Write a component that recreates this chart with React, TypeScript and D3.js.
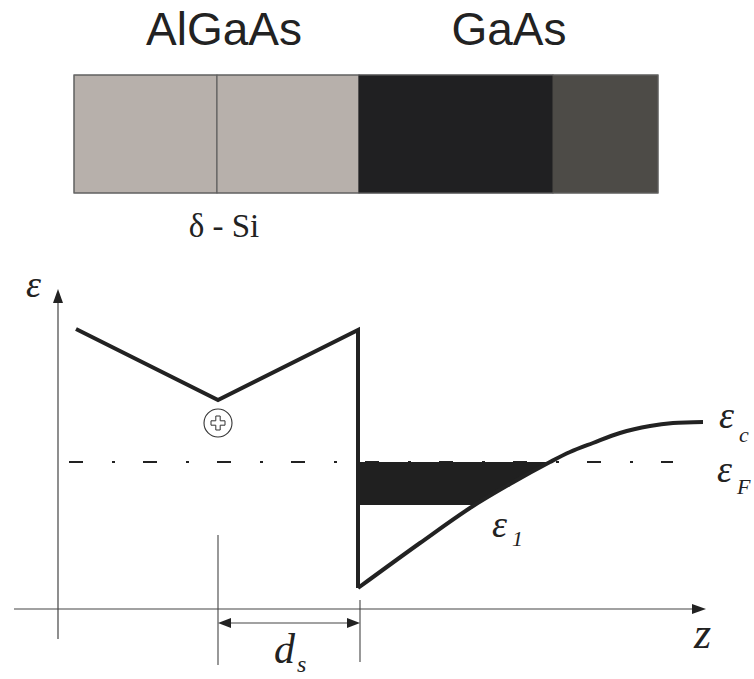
import React from "react";
import * as d3 from "d3";

const W = 754;
const H = 679;

// layer structure (z in diagram units, measured from the energy axis)
const layerBounds = [16, 159, 301, 495, 600];
const layerColors = ["#b7b0ab", "#b7b0ab", "#202022", "#4d4b47"];
const layerLabels = [
  { text: "AlGaAs", z: 166 },
  { text: "GaAs", z: 451 },
];
const deltaLabel = { text: "δ - Si", z: 166 };

// conduction band profile
const barrierProfile = [
  { z: 18, E: 280 },
  { z: 160, E: 209 },
  { z: 300, E: 279 },
  { z: 300, E: 21 },
];
const wellProfile = [
  { z: 300, E: 21 },
  { z: 362, E: 66 },
  { z: 412, E: 101 },
  { z: 452, E: 125 },
  { z: 492, E: 147 },
  { z: 512, E: 157 },
  { z: 535, E: 166 },
  { z: 562, E: 176 },
  { z: 592, E: 183 },
  { z: 615, E: 186 },
  { z: 645, E: 187 },
];
const fermiLevel = 147;
const subbandLevel = 104;
const fermiRange = [11, 615];
const donorPos = { z: 160, E: 186 };
const spacerRange = [160, 302];

const xScale = d3.scaleLinear().domain([0, 650]).range([58, 708]);
const yScale = d3.scaleLinear().domain([0, 320]).range([609, 289]);

const serif = "Liberation Serif, Times New Roman, Times, DejaVu Serif, serif";
const sans = "Liberation Sans, Arial, Helvetica, sans-serif";

function Lbl(props: { x: number; y: number; size: number; children: React.ReactNode }) {
  return (
    <text
      x={props.x}
      y={props.y}
      fontFamily={serif}
      fontStyle="italic"
      fontSize={props.size}
      fill="#222"
    >
      {props.children}
    </text>
  );
}

export default function App() {
  const line = d3
    .line<{ z: number; E: number }>()
    .x((d) => xScale(d.z))
    .y((d) => yScale(d.E));
  const curve = d3
    .line<{ z: number; E: number }>()
    .x((d) => xScale(d.z))
    .y((d) => yScale(d.E))
    .curve(d3.curveCatmullRom.alpha(0.5));
  const aboveCurve = d3
    .area<{ z: number; E: number }>()
    .x((d) => xScale(d.z))
    .y0(0)
    .y1((d) => yScale(d.E))
    .curve(d3.curveCatmullRom.alpha(0.5));

  const ink = "#222";
  const thin = "#444";
  const blockTop = 75;
  const blockBot = 193;

  const yAxisX = xScale(0);
  const xAxisY = yScale(0);
  const ds0 = xScale(spacerRange[0]);
  const ds1 = xScale(spacerRange[1]);
  const dimY = 623;

  const dx = xScale(donorPos.z);
  const dy = yScale(donorPos.E);
  const a = 2.2;
  const b = 7;
  const plus =
    [
      [-a, -b], [a, -b], [a, -a], [b, -a], [b, a], [a, a], [a, b], [-a, b], [-a, a], [-b, a], [-b, -a], [-a, -a],
    ]
      .map((p, i) => `${i ? "L" : "M"}${dx + p[0]},${dy + p[1]}`)
      .join("") + "Z";

  return (
    <svg
      width={W}
      height={H}
      style={{ position: "absolute", left: 0, top: 0, background: "#fff" }}
    >
      <defs>
        <clipPath id="aboveCurve">
          <path d={aboveCurve(wellProfile) || ""} />
        </clipPath>
      </defs>

      {/* layer block */}
      {layerColors.map((c, i) => (
        <rect
          key={i}
          x={xScale(layerBounds[i])}
          y={blockTop}
          width={xScale(layerBounds[i + 1]) - xScale(layerBounds[i])}
          height={blockBot - blockTop}
          fill={c}
          stroke={i < 2 ? "#555" : c}
          strokeWidth={1}
        />
      ))}
      <rect
        x={xScale(layerBounds[0])}
        y={blockTop}
        width={xScale(layerBounds[4]) - xScale(layerBounds[0])}
        height={blockBot - blockTop}
        fill="none"
        stroke="#666"
        strokeWidth={1}
      />
      {layerLabels.map((l) => (
        <text
          key={l.text}
          x={xScale(l.z)}
          y={45}
          textAnchor="middle"
          fontFamily={sans}
          fontSize={46}
          fill="#222"
        >
          {l.text}
        </text>
      ))}
      <text
        x={xScale(deltaLabel.z)}
        y={237}
        textAnchor="middle"
        fontFamily={serif}
        fontSize={33}
        fill="#222"
      >
        {deltaLabel.text}
      </text>

      {/* axes */}
      <line x1={yAxisX} y1={639} x2={yAxisX} y2={300} stroke={thin} strokeWidth={1.2} />
      <path d={`M${yAxisX},289 L${yAxisX - 5},303 L${yAxisX + 5},303 Z`} fill={ink} />
      <line x1={14} y1={xAxisY} x2={696} y2={xAxisY} stroke={thin} strokeWidth={1.2} />
      <path d={`M706,${xAxisY} L692,${xAxisY - 5} L692,${xAxisY + 5} Z`} fill={ink} />

      {/* dimension d_s */}
      <line x1={ds0} y1={535} x2={ds0} y2={665} stroke={thin} strokeWidth={1.1} />
      <line x1={ds1} y1={600} x2={ds1} y2={662} stroke={thin} strokeWidth={1.1} />
      <line x1={ds0 + 8} y1={dimY} x2={ds1 - 8} y2={dimY} stroke={thin} strokeWidth={1.2} />
      <path d={`M${ds0},${dimY} L${ds0 + 13},${dimY - 5} L${ds0 + 13},${dimY + 5} Z`} fill={ink} />
      <path d={`M${ds1},${dimY} L${ds1 - 13},${dimY - 5} L${ds1 - 13},${dimY + 5} Z`} fill={ink} />

      {/* Fermi level */}
      <line
        x1={xScale(fermiRange[0])}
        y1={yScale(fermiLevel)}
        x2={xScale(fermiRange[1])}
        y2={yScale(fermiLevel)}
        stroke={ink}
        strokeWidth={2.2}
        strokeDasharray="14,29,3,28"
      />

      {/* filled 2DEG */}
      <rect
        x={xScale(wellProfile[0].z)}
        y={yScale(fermiLevel)}
        width={xScale(wellProfile[wellProfile.length - 1].z) - xScale(wellProfile[0].z)}
        height={yScale(subbandLevel) - yScale(fermiLevel)}
        fill="#202020"
        clipPath="url(#aboveCurve)"
      />

      {/* band profile */}
      <path d={line(barrierProfile) || ""} fill="none" stroke={ink} strokeWidth={4} strokeLinejoin="miter" />
      <path d={curve(wellProfile) || ""} fill="none" stroke={ink} strokeWidth={4} />

      {/* donor */}
      <circle cx={dx} cy={dy} r={14} fill="#fff" stroke="#333" strokeWidth={1.1} />
      <path d={plus} fill="#fff" stroke="#333" strokeWidth={1} />

      {/* labels */}
      <Lbl x={26} y={297} size={38}>ε</Lbl>
      <Lbl x={719} y={428} size={38}>ε</Lbl>
      <Lbl x={739} y={442} size={22}>c</Lbl>
      <Lbl x={717} y={482} size={38}>ε</Lbl>
      <Lbl x={737} y={494} size={22}>F</Lbl>
      <Lbl x={492} y={537} size={38}>ε</Lbl>
      <Lbl x={512} y={546} size={22}>1</Lbl>
      <Lbl x={274} y={663} size={42}>d</Lbl>
      <Lbl x={297} y={672} size={24}>s</Lbl>
      <Lbl x={694} y={648} size={44}>z</Lbl>
    </svg>
  );
}
